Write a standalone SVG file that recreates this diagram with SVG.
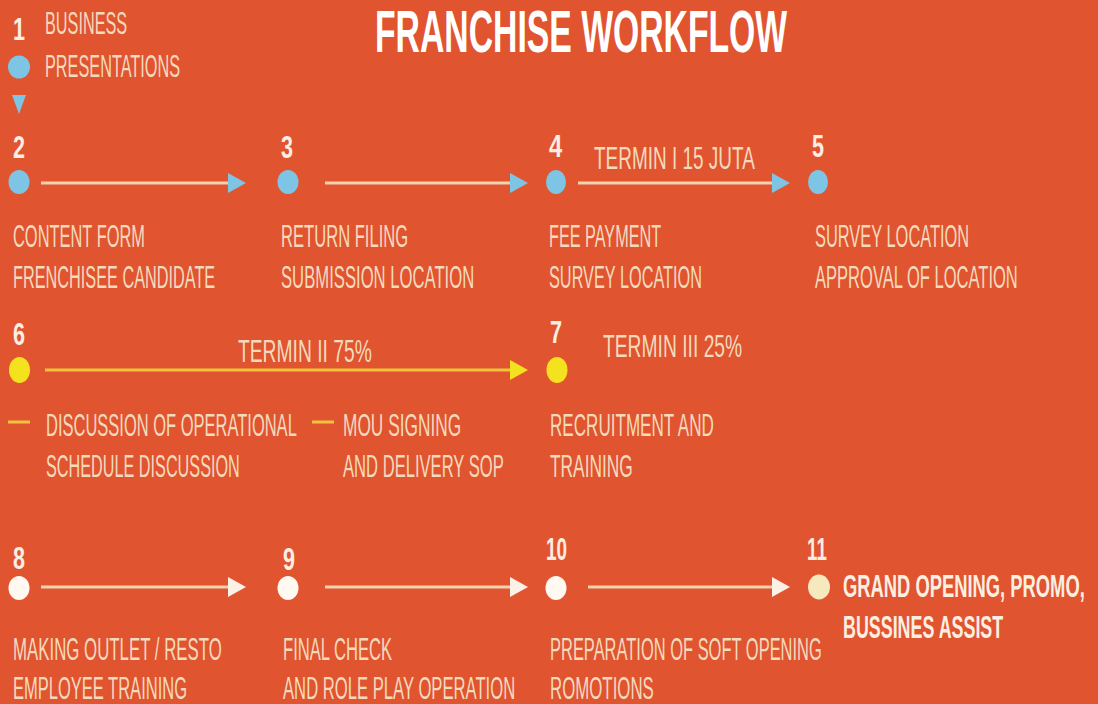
<svg xmlns="http://www.w3.org/2000/svg" width="1098" height="704" viewBox="0 0 1098 704">
<style>
.t{font-family:'Liberation Sans',Arial,sans-serif;font-size:31px;fill:#F3DABD}
.n{font-family:'Liberation Sans',Arial,sans-serif;font-size:31px;font-weight:bold;fill:#FBEEE4}
.b{font-family:'Liberation Sans',Arial,sans-serif;font-size:31px;font-weight:bold;fill:#FBEFE2}
.ttl{font-family:'Liberation Sans',Arial,sans-serif;font-size:59px;font-weight:bold;fill:#FFFFFF}
.ln{stroke:#F0D2B0;stroke-width:3;fill:none}
.lny{stroke:#F2C23A;stroke-width:3;fill:none}
.blue{fill:#7EC4E4}
.yel{fill:#F5E21E}
.wht{fill:#FFF9F2}
</style>
<defs>
<marker id="hB" markerUnits="userSpaceOnUse" markerWidth="18" markerHeight="20" refX="0" refY="10" orient="auto"><path d="M0,0 L18,10 L0,20 z" fill="#7EC4E4"/></marker>
<marker id="hY" markerUnits="userSpaceOnUse" markerWidth="18" markerHeight="20" refX="0" refY="10" orient="auto"><path d="M0,0 L18,10 L0,20 z" fill="#F5E21E"/></marker>
<marker id="hW" markerUnits="userSpaceOnUse" markerWidth="18" markerHeight="20" refX="0" refY="10" orient="auto"><path d="M0,0 L18,10 L0,20 z" fill="#FBF1E6"/></marker>
</defs>
<rect x="0" y="0" width="1098" height="704" fill="#E15430"/>
<text class="ttl" transform="translate(375,52) scale(0.6,1)" textLength="687" lengthAdjust="spacingAndGlyphs">FRANCHISE WORKFLOW</text>

<g id="connectors">
<polygon points="12,95 26,95 19,114" class="blue"/>
<line class="ln" x1="41" y1="183" x2="228" y2="183" marker-end="url(#hB)"/>
<line class="ln" x1="325" y1="183" x2="510" y2="183" marker-end="url(#hB)"/>
<line class="ln" x1="578" y1="183" x2="772" y2="183" marker-end="url(#hB)"/>
<line class="lny" x1="45" y1="370" x2="510" y2="370" marker-end="url(#hY)"/>
<line class="ln" x1="41" y1="587" x2="228" y2="587" marker-end="url(#hW)"/>
<line class="ln" x1="325" y1="587" x2="510" y2="587" marker-end="url(#hW)"/>
<line class="ln" x1="588" y1="587" x2="772" y2="587" marker-end="url(#hW)"/>
<text class="t" transform="translate(594,169) scale(0.6,1)" textLength="268" lengthAdjust="spacingAndGlyphs">TERMIN I 15 JUTA</text>
<text class="t" transform="translate(238,362) scale(0.6,1)" textLength="223" lengthAdjust="spacingAndGlyphs">TERMIN II 75%</text>
</g>

<g id="node1">
<text class="n" transform="translate(13,40) scale(0.6,1)" textLength="20" lengthAdjust="spacingAndGlyphs">1</text>
<ellipse cx="19" cy="67" rx="11" ry="11.5" class="blue"/>
<text class="t" transform="translate(45,34) scale(0.6,1)" textLength="137" lengthAdjust="spacingAndGlyphs">BUSINESS</text>
<text class="t" transform="translate(45,77) scale(0.6,1)" textLength="225" lengthAdjust="spacingAndGlyphs">PRESENTATIONS</text>
</g>

<g id="node2">
<text class="n" transform="translate(13,158) scale(0.6,1)" textLength="20" lengthAdjust="spacingAndGlyphs">2</text>
<ellipse cx="19" cy="182" rx="10.5" ry="12" class="blue"/>
<text class="t" transform="translate(13,247) scale(0.6,1)" textLength="220" lengthAdjust="spacingAndGlyphs">CONTENT FORM</text>
<text class="t" transform="translate(13,288) scale(0.6,1)" textLength="337" lengthAdjust="spacingAndGlyphs">FRENCHISEE CANDIDATE</text>
</g>

<g id="node3">
<text class="n" transform="translate(281,158) scale(0.6,1)" textLength="20" lengthAdjust="spacingAndGlyphs">3</text>
<ellipse cx="288" cy="182" rx="10.5" ry="12" class="blue"/>
<text class="t" transform="translate(281,247) scale(0.6,1)" textLength="212" lengthAdjust="spacingAndGlyphs">RETURN FILING</text>
<text class="t" transform="translate(281,288) scale(0.6,1)" textLength="322" lengthAdjust="spacingAndGlyphs">SUBMISSION LOCATION</text>
</g>

<g id="node4">
<text class="n" transform="translate(549,157) scale(0.6,1)" textLength="22" lengthAdjust="spacingAndGlyphs">4</text>
<ellipse cx="556" cy="182" rx="10" ry="12" class="blue"/>
<text class="t" transform="translate(549,247) scale(0.6,1)" textLength="187" lengthAdjust="spacingAndGlyphs">FEE PAYMENT</text>
<text class="t" transform="translate(549,288) scale(0.6,1)" textLength="255" lengthAdjust="spacingAndGlyphs">SURVEY LOCATION</text>
</g>

<g id="node5">
<text class="n" transform="translate(812,157) scale(0.6,1)" textLength="20" lengthAdjust="spacingAndGlyphs">5</text>
<ellipse cx="818" cy="182" rx="10" ry="12" class="blue"/>
<text class="t" transform="translate(815,247) scale(0.6,1)" textLength="257" lengthAdjust="spacingAndGlyphs">SURVEY LOCATION</text>
<text class="t" transform="translate(815,288) scale(0.6,1)" textLength="338" lengthAdjust="spacingAndGlyphs">APPROVAL OF LOCATION</text>
</g>

<g id="node6">
<text class="n" transform="translate(13,345) scale(0.6,1)" textLength="20" lengthAdjust="spacingAndGlyphs">6</text>
<ellipse cx="19.5" cy="370" rx="10.5" ry="13" class="yel"/>
<line x1="8" y1="422" x2="30" y2="422" stroke="#F2C23A" stroke-width="3"/>
<text class="t" transform="translate(46,436) scale(0.6,1)" textLength="418" lengthAdjust="spacingAndGlyphs">DISCUSSION OF OPERATIONAL</text>
<text class="t" transform="translate(46,477) scale(0.6,1)" textLength="323" lengthAdjust="spacingAndGlyphs">SCHEDULE DISCUSSION</text>
<line x1="312" y1="422" x2="334" y2="422" stroke="#F2C23A" stroke-width="3"/>
<text class="t" transform="translate(343,436) scale(0.6,1)" textLength="197" lengthAdjust="spacingAndGlyphs">MOU SIGNING</text>
<text class="t" transform="translate(343,477) scale(0.6,1)" textLength="268" lengthAdjust="spacingAndGlyphs">AND DELIVERY SOP</text>
</g>

<g id="node7">
<text class="n" transform="translate(550,343) scale(0.6,1)" textLength="20" lengthAdjust="spacingAndGlyphs">7</text>
<ellipse cx="557" cy="370" rx="10.5" ry="13" class="yel"/>
<text class="t" transform="translate(603,357) scale(0.6,1)" textLength="232" lengthAdjust="spacingAndGlyphs">TERMIN III 25%</text>
<text class="t" transform="translate(550,436) scale(0.6,1)" textLength="273" lengthAdjust="spacingAndGlyphs">RECRUITMENT AND</text>
<text class="t" transform="translate(550,477) scale(0.6,1)" textLength="138" lengthAdjust="spacingAndGlyphs">TRAINING</text>
</g>

<g id="node8">
<text class="n" transform="translate(13,569) scale(0.6,1)" textLength="20" lengthAdjust="spacingAndGlyphs">8</text>
<ellipse cx="19" cy="588" rx="10.5" ry="12" class="wht"/>
<text class="t" transform="translate(13,660) scale(0.6,1)" textLength="348" lengthAdjust="spacingAndGlyphs">MAKING OUTLET / RESTO</text>
<text class="t" transform="translate(13,699) scale(0.6,1)" textLength="290" lengthAdjust="spacingAndGlyphs">EMPLOYEE TRAINING</text>
</g>

<g id="node9">
<text class="n" transform="translate(283,570) scale(0.6,1)" textLength="20" lengthAdjust="spacingAndGlyphs">9</text>
<ellipse cx="288" cy="588" rx="10.5" ry="12" class="wht"/>
<text class="t" transform="translate(283,660) scale(0.6,1)" textLength="182" lengthAdjust="spacingAndGlyphs">FINAL CHECK</text>
<text class="t" transform="translate(283,699) scale(0.6,1)" textLength="387" lengthAdjust="spacingAndGlyphs">AND ROLE PLAY OPERATION</text>
</g>

<g id="node10">
<text class="n" transform="translate(546,560) scale(0.6,1)" textLength="35" lengthAdjust="spacingAndGlyphs">10</text>
<ellipse cx="556" cy="588" rx="10.5" ry="12" class="wht"/>
<text class="t" transform="translate(550,660) scale(0.6,1)" textLength="453" lengthAdjust="spacingAndGlyphs">PREPARATION OF SOFT OPENING</text>
<text class="t" transform="translate(550,699) scale(0.6,1)" textLength="173" lengthAdjust="spacingAndGlyphs">ROMOTIONS</text>
</g>

<g id="node11">
<text class="n" transform="translate(807,560) scale(0.6,1)" textLength="33" lengthAdjust="spacingAndGlyphs">11</text>
<ellipse cx="819" cy="587" rx="11" ry="12.5" fill="#F6E9BE"/>
<text class="b" transform="translate(843,597) scale(0.6,1)" textLength="403" lengthAdjust="spacingAndGlyphs">GRAND OPENING, PROMO,</text>
<text class="b" transform="translate(843,638) scale(0.6,1)" textLength="267" lengthAdjust="spacingAndGlyphs">BUSSINES ASSIST</text>
</g>
</svg>
